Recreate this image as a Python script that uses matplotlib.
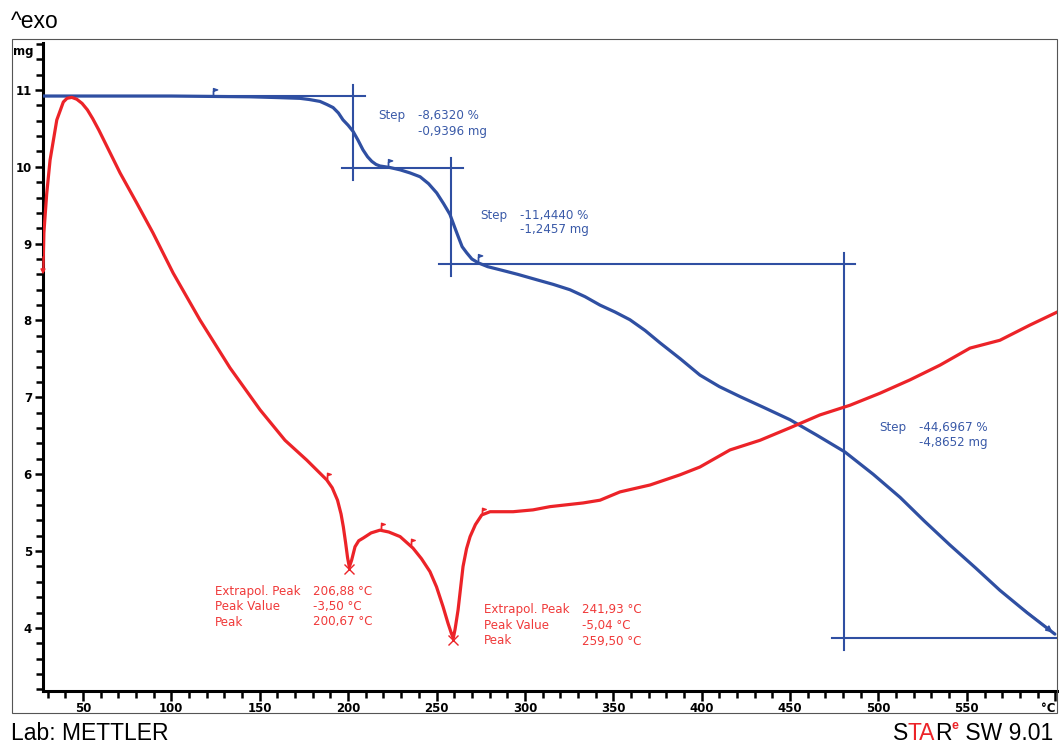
import matplotlib
matplotlib.use("Agg")
import matplotlib.pyplot as plt
from matplotlib.path import Path
from matplotlib.patches import Rectangle
from matplotlib.ticker import MultipleLocator, FixedLocator
import numpy as np

W, H = 1059, 747

# ---- TGA mass curve (mg) against sample temperature (°C) ----
tga_temp = [27.4, 60.0, 100.0, 144.5, 160.0, 172.8, 178.0, 184.1, 188.0, 191.5,
            194.5, 197.1, 200.0, 202.8, 205.5, 208.4, 211.0, 213.4, 215.8, 218.0,
            223.7, 229.4, 235.0, 240.7, 245.5, 250.1, 254.0, 257.6, 260.0, 262.3,
            264.5, 267.1, 270.0, 273.6, 279.0, 285.9, 296.0, 306.7, 316.0, 325.5,
            334.0, 342.5, 351.0, 359.4, 368.0, 376.4, 388.0, 399.0, 410.0, 421.7,
            435.0, 449.9, 465.0, 481.0, 497.0, 512.2, 526.0, 540.4, 555.0, 568.7,
            584.0, 599.8]
tga_mass = [10.92, 10.92, 10.92, 10.91, 10.90, 10.89, 10.875, 10.85, 10.81, 10.77,
            10.70, 10.61, 10.54, 10.46, 10.35, 10.22, 10.13, 10.07, 10.03, 10.01,
            9.99, 9.96, 9.92, 9.87, 9.78, 9.66, 9.52, 9.38, 9.23, 9.09,
            8.96, 8.88, 8.80, 8.75, 8.70, 8.66, 8.60, 8.53, 8.47, 8.40,
            8.31, 8.20, 8.11, 8.01, 7.87, 7.71, 7.50, 7.29, 7.14, 7.01,
            6.87, 6.71, 6.51, 6.29, 6.00, 5.70, 5.39, 5.08, 4.78, 4.49,
            4.20, 3.92]

# ---- SDTA signal (°C) against sample temperature (°C) ----
dsc_temp = [27.4, 27.9, 29.5, 31.4, 35.2, 38.9, 41.0, 43.7, 46.5, 49.5,
            52.5, 55.5, 59.0, 71.0, 80.4, 89.6, 101.0, 116.2, 133.2, 150.2,
            164.3, 176.6, 187.9, 191.0, 194.0, 196.0, 197.3, 198.6, 199.7, 200.67,
            202.0, 203.9, 206.0, 208.6, 213.0, 218.0, 223.0, 229.4, 236.7, 241.5,
            246.3, 250.0, 253.7, 256.5, 258.5, 259.50, 260.5, 262.2, 265.0, 267.0,
            269.0, 272.0, 275.6, 280.3, 293.3, 304.6, 314.2, 332.9, 342.5, 353.8,
            370.8, 387.7, 399.0, 416.0, 433.0, 449.9, 466.9, 483.9, 500.8, 517.8,
            534.8, 551.8, 568.7, 585.7, 601.0]
dsc_signal = [2.94, 3.75, 4.60, 5.33, 6.20, 6.59, 6.67, 6.69, 6.65, 6.56,
              6.42, 6.23, 5.98, 5.05, 4.40, 3.75, 2.88, 1.86, 0.82, -0.09,
              -0.75, -1.18, -1.61, -1.78, -2.05, -2.35, -2.63, -2.98, -3.30, -3.50,
              -3.35, -3.06, -2.93, -2.87, -2.76, -2.70, -2.74, -2.84, -3.09, -3.32,
              -3.60, -3.93, -4.36, -4.72, -4.95, -5.04, -4.85, -4.43, -3.49, -3.10,
              -2.84, -2.58, -2.37, -2.30, -2.30, -2.26, -2.19, -2.11, -2.05, -1.87,
              -1.72, -1.50, -1.33, -0.96, -0.75, -0.48, -0.20, 0.01, 0.27, 0.56,
              0.88, 1.25, 1.42, 1.75, 2.03]

# ---- step evaluations ----
start_mass = 10.92
step_mg = [0.9396, 1.2457, 4.8652]
step_pct = [8.6320, 11.4440, 44.6967]
step_temp = [203.0, 258.4, 480.7]
step_lower_span = [(196.4, 265.2), (251.6, 486.7), (473.9, 601.0)]
upper_span_end = 209.6
tga_flag_temp = [123.6, 222.6, 273.5]

# ---- peak evaluations ----
peak_extrapol = [206.88, 241.93]
peak_value = [-3.50, -5.04]
peak_temp = [200.67, 259.50]
dsc_flag_temp = [188.0, 218.6, 235.6, 275.7]

x_ticks = [50, 100, 150, 200, 250, 300, 350, 400, 450, 500, 550, 600]
x_tick_labels = ["50", "100", "150", "200", "250", "300", "350", "400",
                 "450", "500", "550", "°C"]
y_ticks = [4, 5, 6, 7, 8, 9, 10, 11]

BLUE = "#2f4fa2"
BLUE_TXT = "#3a5aa8"
RED = "#ec2328"
RED_TXT = "#f03a3a"


def fx(px):
    return px / W


def fy(py):
    return 1 - py / H


def comma(v, nd):
    return f"{v:.{nd}f}".replace(".", ",")


fig = plt.figure(figsize=(W / 100, H / 100), dpi=100)
fig.patch.set_facecolor("white")

ax = fig.add_axes([fx(43), fy(691), (1057 - 43) / W, (691 - 43) / H])
ax.set_xlim(27.4, 601.0)
ax.set_ylim(3.18, 11.61)
ax.patch.set_alpha(0)

for side in ("top", "right"):
    ax.spines[side].set_visible(False)
for side in ("left", "bottom"):
    ax.spines[side].set_linewidth(2.2)
    ax.spines[side].set_color("black")

ax.xaxis.set_major_locator(FixedLocator(x_ticks))
ax.set_xticklabels(x_tick_labels)
ax.xaxis.set_minor_locator(MultipleLocator(10))
ax.yaxis.set_major_locator(FixedLocator(y_ticks))
ax.set_yticklabels([str(v) for v in y_ticks])
ax.yaxis.set_minor_locator(MultipleLocator(0.2))
ax.tick_params(axis="x", which="major", length=7, width=1.8, pad=1,
               labelsize=8.5)
ax.tick_params(axis="x", which="minor", length=5, width=1.8)
ax.tick_params(axis="y", which="major", length=6, width=1.8, pad=2,
               labelsize=8.5)
ax.tick_params(axis="y", which="minor", length=5, width=1.8)
for lab in ax.get_xticklabels() + ax.get_yticklabels():
    lab.set_fontweight("bold")
    lab.set_family("DejaVu Sans")
ax.get_xticklabels()[-1].set_horizontalalignment("right")

# TGA curve
ax.plot(tga_temp, tga_mass, color=BLUE, lw=2.3, solid_capstyle="round",
        solid_joinstyle="round", zorder=4)
ax.annotate("", xy=(tga_temp[-1], tga_mass[-1]),
            xytext=(tga_temp[-2] - 4, tga_mass[-2] + 0.08),
            arrowprops=dict(arrowstyle="-|>", color=BLUE, lw=1.2,
                            mutation_scale=9), zorder=5)

# step constructions
levels = [start_mass]
for d in step_mg:
    levels.append(levels[-1] - d)
x0, x1 = ax.get_xlim()
ax.plot([x0, upper_span_end], [levels[0], levels[0]], color=BLUE, lw=1.5,
        zorder=3)
for i, t in enumerate(step_temp):
    ax.plot([t, t], [levels[i] + 0.14, levels[i + 1] - 0.15], color=BLUE,
            lw=1.5, zorder=3)
    a, b = step_lower_span[i]
    ax.plot([a, b], [levels[i + 1], levels[i + 1]], color=BLUE, lw=1.5,
            zorder=3)

# flag markers
flag = Path([(0, 0), (0, 1), (0.6, 0.8), (0, 0.6), (0, 0)],
            [Path.MOVETO, Path.LINETO, Path.LINETO, Path.LINETO,
             Path.CLOSEPOLY])
ax.plot(tga_flag_temp, np.interp(tga_flag_temp, tga_temp, tga_mass) + 0.02,
        ls="none", marker=flag, ms=10, color=BLUE, mew=1.0, zorder=5)

# SDTA curve on its own scale
ax2 = ax.twinx()
ax2.set_ylim(-6.19, 7.87)
ax2.set_xlim(x0, x1)
ax2.axis("off")
ax2.plot(dsc_temp, dsc_signal, color=RED, lw=2.3, solid_joinstyle="round",
         zorder=4)
ax2.plot(dsc_flag_temp, np.interp(dsc_flag_temp, dsc_temp, dsc_signal) + 0.02,
         ls="none", marker=flag, ms=9, color=RED, mew=1.0, zorder=5)
ax2.plot(peak_temp, [v - 0.05 for v in peak_value], ls="none", marker="x",
         ms=7, color=RED, mew=1.0, zorder=5)
ax2.annotate("", xy=(dsc_temp[0], dsc_signal[0] - 0.15),
             xytext=(dsc_temp[0], dsc_signal[0] + 0.35),
             arrowprops=dict(arrowstyle="-|>", color=RED, lw=1.0,
                             mutation_scale=7), zorder=5)

# step annotations
ann_font = dict(family="DejaVu Sans", fontsize=8.6, va="center", ha="left")
step_text_pos = [(378, 115, 16), (480, 215, 14.5), (879, 427, 15.5)]
for (px_, py_, dy), pct, mg in zip(step_text_pos, step_pct, step_mg):
    fig.text(fx(px_), fy(py_), "Step", color=BLUE_TXT, **ann_font)
    fig.text(fx(px_ + 40), fy(py_), f"-{comma(pct, 4)} %", color=BLUE_TXT,
             **ann_font)
    fig.text(fx(px_ + 40), fy(py_ + dy), f"-{comma(mg, 4)} mg",
             color=BLUE_TXT, **ann_font)

# peak annotations
peak_text_pos = [(215, 591), (484, 610)]
for (px_, py_), ext, val, pk in zip(peak_text_pos, peak_extrapol, peak_value,
                                    peak_temp):
    rows = [("Extrapol. Peak", f"{comma(ext, 2)} °C"),
            ("Peak Value", f"{comma(val, 2)} °C"),
            ("Peak", f"{comma(pk, 2)} °C")]
    for k, (name, value) in enumerate(rows):
        fig.text(fx(px_), fy(py_ + 15.5 * k), name, color=RED_TXT, **ann_font)
        fig.text(fx(px_ + 98), fy(py_ + 15.5 * k), value, color=RED_TXT,
                 **ann_font)

# axis unit label
fig.text(fx(13), fy(52), "mg", fontsize=8.5, fontweight="bold",
         family="DejaVu Sans", ha="left", va="center")

# frame and header / footer
fig.add_artist(Rectangle((fx(12), fy(713)), (1057 - 12) / W, (713 - 39) / H,
                         transform=fig.transFigure, fill=False, lw=0.8,
                         ec="#555555"))
fig.text(fx(11), fy(21), "^exo", fontsize=16.5, family="Liberation Sans",
         ha="left", va="center")
fig.text(fx(11), fy(733), "Lab: METTLER", fontsize=16.5,
         family="Liberation Sans", ha="left", va="center")

# product mark, assembled from coloured pieces and right-aligned
renderer = fig.canvas.get_renderer()
pieces = [("S", "black", 16.5, 0), ("TA", RED, 16.5, 0), ("R", "black", 16.5, 0),
          ("e", RED, 9, 7), (" SW 9.01", "black", 16.5, 0)]
texts = []
widths = []
for s, c, size, rise in pieces:
    t = fig.text(0, fy(733 - rise), s, color=c, fontsize=size,
                 family="Liberation Sans", ha="left", va="center",
                 fontweight="bold" if s == "e" else "normal")
    texts.append(t)
    widths.append(t.get_window_extent(renderer).width)
xpos = 1053 - sum(widths)
for t, w in zip(texts, widths):
    t.set_x(fx(xpos))
    xpos += w

fig.savefig("out.png", dpi=100, facecolor="white")
